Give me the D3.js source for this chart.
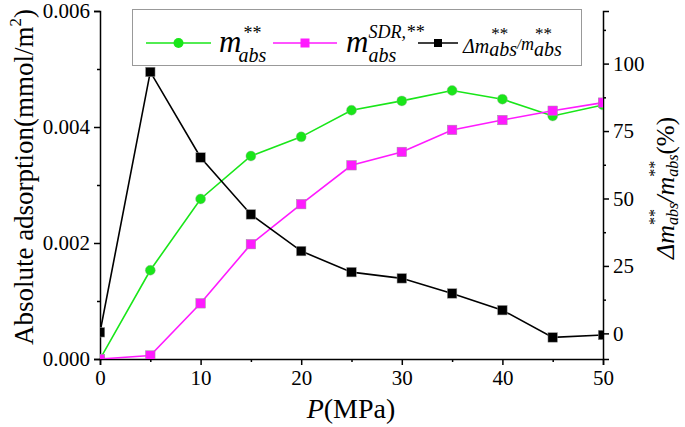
<!DOCTYPE html>
<html><head><meta charset="utf-8">
<script src="https://cdn.jsdelivr.net/npm/d3@7"></script>
<style>
html,body{margin:0;padding:0;background:#fff;}
</style></head>
<body>
<svg id="chart" width="685" height="427" font-family="Liberation Serif"></svg>
<script>
// ---- data ----
const pressure = [0, 5, 10, 15, 20, 25, 30, 35, 40, 45, 50];
const mAbs = [0.00000, 0.00153, 0.00276, 0.00350, 0.00383, 0.00429, 0.00445, 0.00463, 0.00448, 0.00419, 0.00438];
const mAbsSDR = [0.00000, 0.00006, 0.00096, 0.00198, 0.00267, 0.00334, 0.00357, 0.00395, 0.00412, 0.00428, 0.00442];
const deltaPct = [0.4, 96.9, 65.2, 44.1, 30.5, 22.7, 20.4, 14.8, 8.6, -1.5, -0.6];
const xTicks = [0, 10, 20, 30, 40, 50];
const xMinor = [5, 15, 25, 35, 45];
const yLeftTicks = [0.000, 0.002, 0.004, 0.006];
const yLeftMinor = [0.001, 0.003, 0.005];
const yRightTicks = [0, 25, 50, 75, 100];
const yRightMinor = [12.5, 37.5, 62.5, 87.5, 112.5];

const FONT = "Liberation Serif";
const GREEN = "#19e619", MAGENTA = "#ff1aff", BLACK = "#000";
const svg = d3.select("#chart");
const X0 = 100, X1 = 603, Y0 = 359, Y1 = 11;
const x = d3.scaleLinear().domain([0, 50]).range([X0, X1]);
const yL = d3.scaleLinear().domain([0, 0.006]).range([Y0, Y1]);
const yR = d3.scaleLinear().domain([-9.5, 119.5]).range([Y0, Y1]);

// axes
function styleAxis(g) {
  g.attr("font-family", FONT).attr("font-size", 21);
  g.select(".domain").attr("stroke", "#000").attr("stroke-width", 1.5);
  g.selectAll(".tick line").attr("stroke", "#000").attr("stroke-width", 1.5);
  g.selectAll(".tick text").attr("font-size", 21).attr("fill", "#000").attr("font-family", FONT);
}
function minor(g) {
  g.select(".domain").remove();
  g.selectAll("line").attr("stroke", "#000").attr("stroke-width", 1.5);
  g.selectAll("text").remove();
}
const gx = svg.append("g").attr("transform", `translate(0,${Y0})`)
  .call(d3.axisBottom(x).tickValues(xTicks).tickFormat(d3.format("d")).tickSizeOuter(0).tickSize(6).tickPadding(5));
styleAxis(gx);
svg.append("g").attr("transform", `translate(0,${Y0})`)
  .call(d3.axisBottom(x).tickValues(xMinor).tickFormat("").tickSizeOuter(0).tickSize(3)).call(minor);

const gl = svg.append("g").attr("transform", `translate(${X0},0)`)
  .call(d3.axisLeft(yL).tickValues(yLeftTicks).tickFormat(d3.format(".3f")).tickSizeOuter(0).tickSize(6).tickPadding(4));
styleAxis(gl);
svg.append("g").attr("transform", `translate(${X0},0)`)
  .call(d3.axisLeft(yL).tickValues(yLeftMinor).tickFormat("").tickSizeOuter(0).tickSize(3)).call(minor);

const gr = svg.append("g").attr("transform", `translate(${X1},0)`)
  .call(d3.axisRight(yR).tickValues(yRightTicks).tickFormat(d3.format("d")).tickSizeOuter(0).tickSize(6).tickPadding(4));
styleAxis(gr);
svg.append("g").attr("transform", `translate(${X1},0)`)
  .call(d3.axisRight(yR).tickValues(yRightMinor).tickFormat("").tickSizeOuter(0).tickSize(3)).call(minor);

// clip
svg.append("clipPath").attr("id", "clip").append("rect")
  .attr("x", X0).attr("y", Y1).attr("width", X1 - X0).attr("height", Y0 - Y1);
const plot = svg.append("g").attr("clip-path", "url(#clip)");

function series(vals, yScale, color, shape, size) {
  const pts = pressure.map((p, i) => [x(p), yScale(vals[i])]);
  plot.append("path").attr("d", d3.line()(pts)).attr("fill", "none")
    .attr("stroke", color).attr("stroke-width", 1.6);
  if (shape === "circle") {
    plot.selectAll(null).data(pts).enter().append("circle")
      .attr("cx", d => d[0]).attr("cy", d => d[1]).attr("r", size / 2)
      .attr("fill", color).attr("stroke", "#aaa").attr("stroke-width", 0.4);
  } else {
    plot.selectAll(null).data(pts).enter().append("rect")
      .attr("x", d => d[0] - size / 2).attr("y", d => d[1] - size / 2)
      .attr("width", size).attr("height", size)
      .attr("fill", color).attr("stroke", "#999").attr("stroke-width", 0.5);
  }
}
series(mAbs, yL, GREEN, "circle", 10);
series(mAbsSDR, yL, MAGENTA, "rect", 9.5);
series(deltaPct, yR, BLACK, "rect", 9.5);

// rich text helper: one <text> with positioned tspans
function rich(g, segs) {
  const text = g.append("text").attr("fill", "#000").attr("font-family", FONT);
  let cx = 0, prevStart = 0, prevW = 0;
  segs.forEach(s => {
    const start = s.stack ? prevStart : cx;
    const t = text.append("tspan").attr("x", start + (s.dx || 0)).attr("y", -(s.up || 0))
      .attr("font-size", s.size).attr("font-style", s.italic ? "italic" : "normal")
      .attr("font-family", FONT).text(s.t);
    const w = t.node().getComputedTextLength() + (s.dx || 0);
    cx = s.stack ? prevStart + Math.max(prevW, w) : start + w;
    prevStart = start; prevW = w;
  });
  return cx;
}

// axis titles
{
  const g = svg.append("g");
  const w = rich(g, [
    {t: "P", size: 28, italic: true},
    {t: "(MPa)", size: 28}
  ]);
  g.attr("transform", `translate(${351 - w / 2},418)`);
}
{
  const outer = svg.append("g").attr("transform", "translate(33,177) rotate(-90)");
  const g = outer.append("g");
  const w = rich(g, [
    {t: "Absolute adsorption(mmol/m", size: 27},
    {t: "2", size: 17, up: 12},
    {t: ")", size: 27}
  ]);
  g.attr("transform", `translate(${-w / 2},0)`);
}
{
  const outer = svg.append("g").attr("transform", "translate(674,188) rotate(-90)");
  const g = outer.append("g");
  const w = rich(g, [
    {t: "\u0394m", size: 26, italic: true},
    {t: "**", size: 16, up: 14},
    {t: "abs", size: 16, italic: true, up: -4, stack: true},
    {t: "/", size: 26, italic: true},
    {t: "m", size: 26, italic: true},
    {t: "**", size: 16, up: 14},
    {t: "abs", size: 16, italic: true, up: -4, stack: true},
    {t: "(%)", size: 25}
  ]);
  g.attr("transform", `translate(${-w / 2},0)`);
}

// legend
svg.append("rect").attr("x", 132.5).attr("y", 9.5).attr("width", 449).attr("height", 56)
  .attr("fill", "#fff").attr("stroke", "#999").attr("stroke-width", 1);
const legY = 43;
function legLine(xa, xb, color, shape, size) {
  svg.append("line").attr("x1", xa).attr("x2", xb).attr("y1", legY).attr("y2", legY)
    .attr("stroke", color).attr("stroke-width", 1.6);
  const xm = (xa + xb) / 2;
  if (shape === "circle") svg.append("circle").attr("cx", xm).attr("cy", legY).attr("r", size / 2).attr("fill", color);
  else svg.append("rect").attr("x", xm - size / 2).attr("y", legY - size / 2).attr("width", size).attr("height", size).attr("fill", color);
}
legLine(146, 211, GREEN, "circle", 10);
legLine(273, 337, MAGENTA, "rect", 9);
legLine(418, 458, BLACK, "rect", 8);
{
  const g = svg.append("g").attr("transform", "translate(219,52)");
  rich(g, [
    {t: "m", size: 31, italic: true},
    {t: "**", size: 18, up: 13, dx: 2},
    {t: "abs", size: 20, italic: true, up: -10, stack: true, dx: -3}
  ]);
}
{
  const g = svg.append("g").attr("transform", "translate(346,52)");
  rich(g, [
    {t: "m", size: 31, italic: true},
    {t: "SDR,**", size: 18, italic: true, up: 14},
    {t: "abs", size: 20, italic: true, up: -10, stack: true}
  ]);
}
{
  const g = svg.append("g").attr("transform", "translate(463,53)");
  rich(g, [
    {t: "\u0394m", size: 20, italic: true},
    {t: "**", size: 17, up: 14, dx: 2},
    {t: "abs", size: 20, italic: true, up: -3, stack: true},
    {t: "/", size: 14, italic: true, up: 4},
    {t: "m", size: 18, italic: true, up: 3},
    {t: "**", size: 17, up: 14, dx: 1},
    {t: "abs", size: 20, italic: true, up: -3, stack: true}
  ]);
}
</script>
</body></html>
